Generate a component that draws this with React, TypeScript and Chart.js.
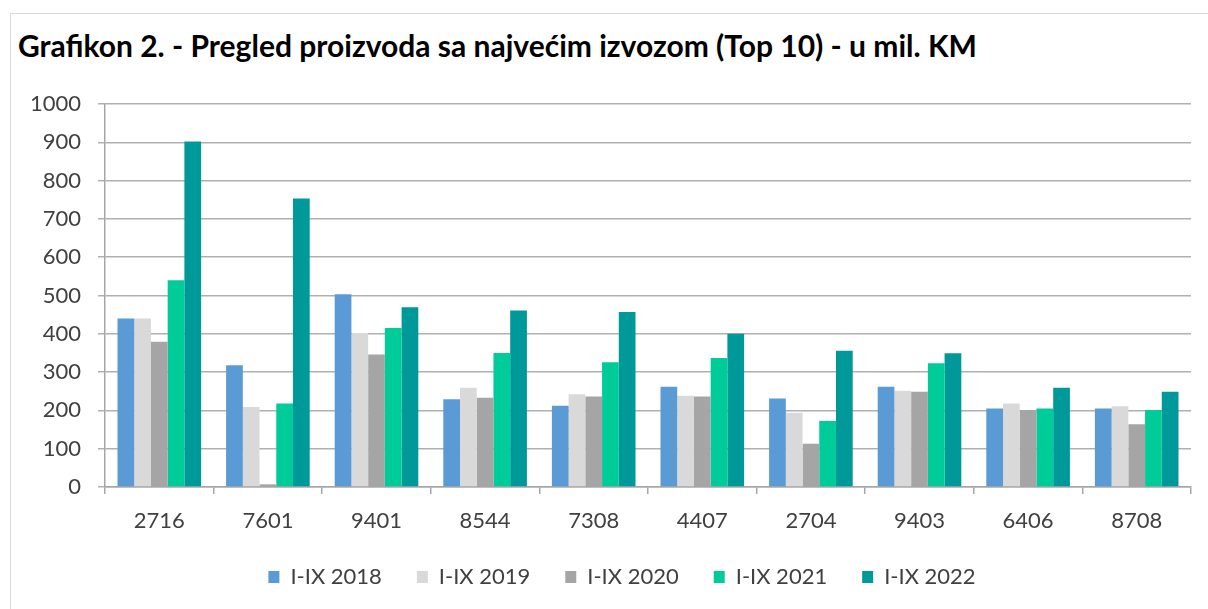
import React, { useEffect, useRef } from "react";
import { Chart, registerables } from "chart.js";

Chart.register(...registerables);

const categories = ["2716", "7601", "9401", "8544", "7308", "4407", "2704", "9403", "6406", "8708"];
const seriesLabels = ["I-IX 2018", "I-IX 2019", "I-IX 2020", "I-IX 2021", "I-IX 2022"];
const values2018 = [440, 318, 503, 229, 212, 262, 231, 262, 205, 205];
const values2019 = [440, 209, 402, 259, 242, 238, 194, 251, 218, 211];
const values2020 = [379, 7, 346, 233, 236, 236, 113, 249, 201, 164];
const values2021 = [540, 218, 415, 350, 326, 337, 172, 323, 205, 201];
const values2022 = [902, 753, 469, 461, 457, 400, 356, 349, 259, 249];
const seriesColors = ["#5B9BD5", "#D9D9D9", "#A5A5A5", "#00CC99", "#009999"];
const yTicks = [0, 100, 200, 300, 400, 500, 600, 700, 800, 900, 1000];

const FONT = "Lato, 'Open Sans', sans-serif";

const shiftLegend = {
  id: "shiftLegend",
  afterLayout(chart: any) {
    if (chart.legend) {
      chart.legend.left += 43;
    }
  },
};

export default function App() {
  const ref = useRef<HTMLCanvasElement | null>(null);

  useEffect(() => {
    if (!ref.current) return;
    const all = [values2018, values2019, values2020, values2021, values2022];
    const chart = new Chart(ref.current, {
      type: "bar",
      data: {
        labels: categories,
        datasets: all.map((d, i) => ({
          label: seriesLabels[i],
          data: d,
          backgroundColor: seriesColors[i],
          borderWidth: 0,
          categoryPercentage: 0.77,
          barPercentage: 1.0,
        })),
      },
      plugins: [shiftLegend],
      options: {
        responsive: false,
        animation: false,
        layout: { padding: { top: 104, left: 10, right: 17, bottom: 11 } },
        plugins: {
          title: { display: false },
          tooltip: { enabled: false },
          legend: {
            position: "bottom",
            fullSize: true,
            labels: {
              boxWidth: 11,
              boxHeight: 12,
              padding: 35,
              color: "#404040",
              font: { family: FONT, size: 22 },
            },
          },
        },
        scales: {
          x: {
            afterFit: (s: any) => {
              s.height = 44;
            },
            grid: {
              offset: true,
              drawOnChartArea: false,
              drawTicks: true,
              tickLength: 7,
              color: "#A6A6A6",
              lineWidth: 1.5,
            },
            border: { display: true, color: "#A6A6A6", width: 1.5 },
            ticks: {
              color: "#404040",
              font: { family: FONT, size: 22 },
              padding: 14,
            },
          },
          y: {
            min: 0,
            max: 1000,
            afterFit: (s: any) => {
              s.width = 95;
            },
            afterBuildTicks: (s: any) => {
              s.ticks = yTicks.map((v) => ({ value: v }));
            },
            grid: {
              color: "#B0B0B0",
              lineWidth: 1.5,
              tickLength: 7,
            },
            border: { display: true, color: "#A6A6A6", width: 1.5 },
            ticks: {
              color: "#404040",
              font: { family: FONT, size: 22 },
              padding: 17,
              callback: (v: any) => String(v),
            },
          },
        },
      },
    });
    return () => chart.destroy();
  }, []);

  return (
    <div style={{ position: "absolute", left: 0, top: 0, width: 1208, height: 609, overflow: "hidden", background: "#fff" }}>
      <div
        style={{
          position: "absolute",
          left: 10,
          top: 13,
          right: 0,
          bottom: 0,
          borderLeft: "1px solid #D9D9D9",
          borderTop: "1px solid #D9D9D9",
        }}
      />
      <div
        style={{
          position: "absolute",
          left: 18,
          top: 27,
          fontFamily: FONT,
          fontWeight: 700,
          fontSize: 30,
          lineHeight: "36px",
          color: "#000",
          whiteSpace: "nowrap",
        }}
      >
        Grafikon 2. - Pregled proizvoda sa najvećim izvozom (Top 10) - u mil. KM
      </div>
      <canvas ref={ref} width={1208} height={609} style={{ position: "absolute", left: 0, top: 0 }} />
    </div>
  );
}
